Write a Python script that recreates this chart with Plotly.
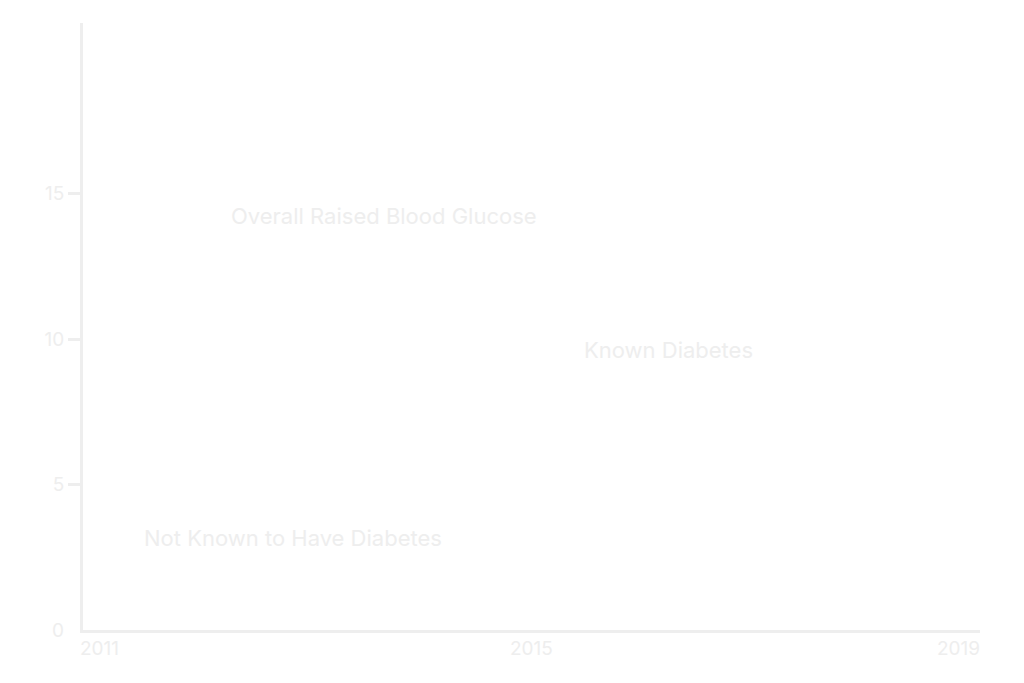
import plotly.graph_objects as go

# series labels and where they sit (data coordinates)
series_labels = ['Overall Raised Blood Glucose', 'Known Diabetes', 'Not Known to Have Diabetes']
label_x = [2012.30, 2015.45, 2011.53]
label_y = [14.25, 9.61, 3.16]

x_ticks = [2011, 2015, 2019]
y_ticks = [5, 10, 15]
x_range = [2011, 2019]
y_range = [0, 20.87]

FAINT = '#eeeeee'
FONT = 'Inter'

fig = go.Figure()

annotations = []
for text, x, y in zip(series_labels, label_x, label_y):
    annotations.append(dict(
        x=x, y=y, xref='x', yref='y', text=text, showarrow=False,
        xanchor='left', yanchor='middle', font=dict(family=FONT, size=22, color=FAINT),
    ))

# x tick labels: first pinned left, middle centred, last pinned right
for val, anchor, shift in zip(x_ticks, ['left', 'center', 'right'], [-5, 0, 2]):
    annotations.append(dict(
        x=val, y=0, xref='x', yref='paper', text=str(val), showarrow=False,
        xanchor=anchor, yanchor='top', yshift=-5, xshift=shift,
        font=dict(family=FONT, size=19, color=FAINT),
    ))

# zero label has no tick mark
annotations.append(dict(
    x=0, y=0, xref='paper', yref='y', text='0', showarrow=False,
    xanchor='right', yanchor='middle', xshift=-17,
    font=dict(family=FONT, size=19, color=FAINT),
))

fig.update_layout(
    width=1024, height=683,
    paper_bgcolor='white', plot_bgcolor='white',
    margin=dict(l=75, r=52, t=15, b=61),
    showlegend=False,
    annotations=annotations,
    xaxis=dict(
        range=x_range, showgrid=False, zeroline=False, showticklabels=False,
        showline=True, linecolor=FAINT, linewidth=3, ticks='',
    ),
    yaxis=dict(
        range=y_range, showgrid=False, zeroline=False,
        showline=True, linecolor=FAINT, linewidth=3,
        tickvals=y_ticks, ticks='outside', ticklen=12, tickwidth=3, tickcolor=FAINT,
        tickfont=dict(family=FONT, size=19, color=FAINT),
    ),
)

fig.write_html("out.html")
